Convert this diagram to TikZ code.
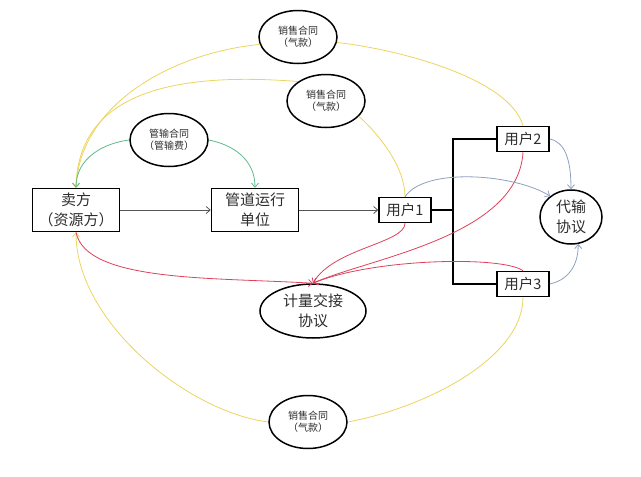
\documentclass[tikz,border=0pt]{standalone}
\usepackage{fontspec}
\setmainfont{Noto Sans CJK SC}
\usepackage{tikz}
\usetikzlibrary{arrows.meta, shapes.geometric}
\usepackage{xcolor}
\definecolor{ink}{RGB}{45,45,45}
\definecolor{flow}{RGB}{85,85,85}
\definecolor{sale}{RGB}{235,212,95}
\definecolor{meter}{RGB}{222,65,90}
\definecolor{fee}{RGB}{95,185,140}
\definecolor{relay}{RGB}{140,160,192}

\begin{document}
\begin{tikzpicture}[x=1pt, y=-1pt, text=ink,
    >={Straight Barb[length=4pt, width=7pt]},
    party/.style={draw=black, line width=1.5pt, align=center, inner sep=0pt,
                  font=\fontsize{15}{20}\selectfont},
    user/.style={party, minimum width=52pt, minimum height=25pt,
                 font=\fontsize{14.5}{16}\selectfont},
    deal/.style={draw=black, ellipse, line width=1.5pt, align=center,
                 inner sep=0pt, font=\fontsize{15}{20}\selectfont},
    contract/.style={deal, minimum width=78pt, minimum height=53pt,
                     font=\fontsize{10}{12}\selectfont},
    link/.style={line width=0.8pt}]
  \useasboundingbox (0,0) rectangle (641,477);
  % parties
  \node[party, minimum width=87pt, minimum height=43pt] (seller) at (76,210)
    {卖方\\（资源方）};
  \node[party, minimum width=87pt, minimum height=43pt] (pipe) at (255,210)
    {管道运行\\单位};
  \node[user] (u1) at (405,210) {用户1};
  \node[user] (u2) at (523,139) {用户2};
  \node[user] (u3) at (523,284) {用户3};
  % agreements
  \node[deal, minimum width=62pt, minimum height=54pt] (relay) at (571,217)
    {代输\\协议};
  \node[deal, minimum width=106pt, minimum height=54pt] (meter) at (313,311)
    {计量交接\\协议};
  \node[contract] (saleA) at (298,37) {销售合同\\（气款）};
  \node[contract] (saleB) at (326,101) {销售合同\\（气款）};
  \node[contract] (saleC) at (308,422) {销售合同\\（气款）};
  \node[contract] (fee) at (169,140) {管输合同\\（管输费）};
  % gas flow
  \draw[link, flow, ->] (seller) -- (pipe);
  \draw[link, flow, ->] (pipe) -- (u1);
  \coordinate (fork) at (453,210);
  \draw[line width=1.5pt] (u1.east) -- (fork);
  \draw[line width=1.5pt] (u2.west) -| (fork) |- (u3.west);
  % sales contracts
  \draw[link, sale, ->] (saleA.191) .. controls +(-85,8) and +(4,-85) .. (seller.north);
  \draw[link, sale, ->] (saleB.145) .. controls +(-127,-10) and +(2,-94) .. (seller.north);
  \draw[link, sale] (saleA.-8) .. controls +(63,7) and +(-13,-47) .. (u2.north);
  \draw[link, sale] (saleB.-25) .. controls +(20,18) and +(0,-30) .. (u1.north);
  \draw[link, sale, ->] (saleC.west) .. controls +(-80,-10) and +(0,90) .. (seller.south);
  \draw[link, sale] (saleC.east) .. controls +(80,-15) and +(0,60) .. (u3.south);
  % transport fee
  \draw[link, fee, ->] (fee.west) .. controls +(-25,3) and +(0,-30) .. (seller.north);
  \draw[link, fee, ->] (fee.east) .. controls +(25,5) and +(0,-28) .. (pipe.north);
  % metering
  \draw[link, meter, ->] (seller.south) .. controls +(10,50) and +(-100,-6) .. (meter.north);
  \draw[link, meter, ->] (u1.south) .. controls +(0,20) and +(20,-35) .. (meter.north);
  \draw[link, meter, ->] (u2.south) .. controls +(-5,85) and +(55,-25) .. (meter.north);
  \draw[link, meter, ->] (u3.north) .. controls +(-20,-15) and +(60,-25) .. (meter.north);
  % transit
  \draw[link, relay, ->] (u1.north) .. controls +(20,-30) and +(-35,-22) .. (relay.135);
  \draw[link, relay, ->] (u2.east) .. controls +(15,3) and +(0,-30) .. (relay.north);
  \draw[link, relay, ->] (u3.east) .. controls +(15,-3) and +(0,25) .. (relay.-75);
\end{tikzpicture}
\end{document}
